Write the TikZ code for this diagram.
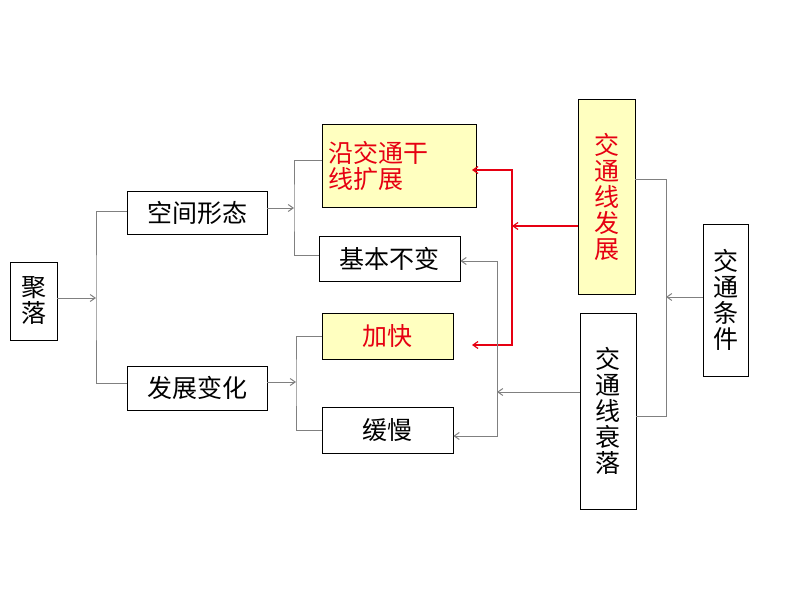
\documentclass[tikz,border=0pt]{standalone}
\usepackage{fontspec}
\setmainfont{Noto Sans CJK SC}
\usetikzlibrary{arrows.meta}
\definecolor{ylw}{RGB}{255,255,192}
\definecolor{gl}{RGB}{128,128,128}
\definecolor{rd}{RGB}{230,0,18}
\tikzset{bx/.style={draw=black,line width=0.8pt,inner sep=0pt,font=\fontsize{25}{30}\selectfont},
 hl/.style={bx,fill=ylw,text=rd},
 ln/.style={draw=gl,line width=1pt},
 ar/.style={ln,-{Straight Barb[length=5pt,width=7pt]}},
 rar/.style={draw=rd,line width=1.2pt,-{Straight Barb[length=5pt,width=7pt]}}}
\begin{document}
\begin{tikzpicture}[x=1pt,y=-1pt]
\useasboundingbox (0,0) rectangle (794,596);
\node[bx,minimum width=47,minimum height=78,align=center] (jl) at (33.5,301) {聚\\[-4pt]落};
\node[bx,minimum width=140,minimum height=43] (kj) at (197,212.5) {空间形态};
\node[bx,minimum width=140,minimum height=44] (fz) at (197,388) {发展变化};
\node[hl,minimum width=154,minimum height=83,align=left,text width=142] (yj) at (399,165.5) {沿交通干\\[-4pt]线扩展};
\node[bx,minimum width=141,minimum height=45] (jb) at (389.5,258.5) {基本不变};
\node[hl,minimum width=131,minimum height=46] (jk) at (387.5,336) {加快};
\node[bx,minimum width=131,minimum height=46] (hm) at (387.5,430) {缓慢};
\node[hl,minimum width=57,minimum height=195,align=center] (fzx) at (606.5,196.5) {交\\[-4pt]通\\[-4pt]线\\[-4pt]发\\[-4pt]展};
\node[bx,minimum width=56,minimum height=196,align=center] (sl) at (608,411) {交\\[-4pt]通\\[-4pt]线\\[-4pt]衰\\[-4pt]落};
\node[bx,minimum width=45,minimum height=152,align=center] (tj) at (725.5,300) {交\\[-4pt]通\\[-4pt]条\\[-4pt]件};
% left brackets
\coordinate (b1) at (96,298);
\draw[ar] (jl.east|-b1) -- (b1);
\draw[ln] (kj.west|-0,211) -| (b1) |- (fz.west|-0,383);
\coordinate (b2) at (294,208);
\draw[ar] (kj.east|-b2) -- (b2);
\draw[ln] (yj.west|-0,161) -| (b2) |- (jb.west|-0,255);
\coordinate (b3) at (296,382);
\draw[ar] (fz.east|-b3) -- (b3);
\draw[ln] (jk.west|-0,336) -| (b3) |- (hm.west|-0,430);
% right bracket
\coordinate (b4) at (666,297);
\draw[ln] (fzx.east|-0,179) -| (b4) |- (sl.east|-0,416);
\draw[ar] (tj.west|-b4) -- (b4);
% red
\coordinate (r1) at (512,226);
\draw[rar] (fzx.west|-r1) -- (r1);
\draw[rar] (r1) |- (472,170);
\draw[rar] (r1) |- (472,345);
% gray
\coordinate (g1) at (497,392);
\draw[ar] (sl.west|-g1) -- (g1);
\draw[ar] (g1) |- (jb.east|-0,261);
\draw[ar] (g1) |- (hm.east|-0,436);
\end{tikzpicture}
\end{document}
